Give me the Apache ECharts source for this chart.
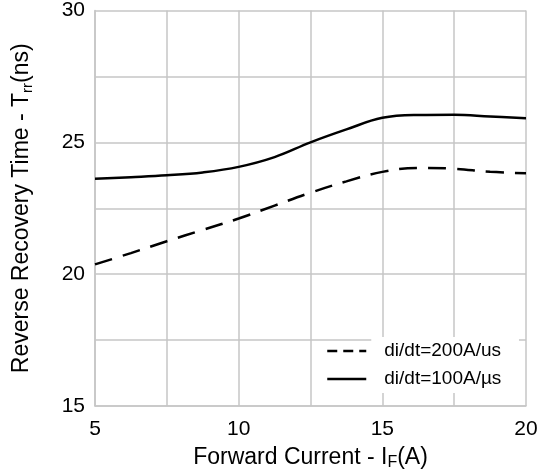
<!DOCTYPE html>
<html>
<head>
<meta charset="utf-8">
<script src="https://cdn.jsdelivr.net/npm/echarts@6/dist/echarts.min.js"></script>
<style>html,body{margin:0;padding:0;background:#fff;}#c{width:542px;height:476px;}</style>
</head>
<body>
<div id="c"></div>
<script>
var xValues = [5, 6.25, 7.5, 8.75, 10, 11.25, 12.5, 13.75, 15, 16.25, 17.5, 18.75, 20];
var trr200 = [20.37, 20.8, 21.25, 21.68, 22.11, 22.6, 23.09, 23.52, 23.88, 24.03, 24.0, 23.88, 23.83];
var trr100 = [23.62, 23.68, 23.75, 23.86, 24.07, 24.44, 25.0, 25.49, 25.93, 26.04, 26.05, 25.98, 25.91];
var seriesNames = ['di/dt=200A/us', 'di/dt=100A/\u00b5s'];
var xTickLabels = [5, 10, 15, 20];
var yTickLabels = [15, 20, 25, 30];

function pairs(xs, ys) { return xs.map(function (x, i) { return [x, ys[i]]; }); }

var chart = echarts.init(document.getElementById('c'), null, { renderer: 'canvas' });
var font = 'Liberation Sans, Arial, sans-serif';
var gridColor = '#c6c6c6';
chart.setOption({
  animation: false,
  backgroundColor: '#fff',
  textStyle: { fontFamily: font, color: '#000' },
  grid: { left: 95, right: 16, top: 5, bottom: 66, containLabel: false },
  xAxis: {
    type: 'value', min: 5, max: 20, interval: 2.5,
    axisLine: { show: true, lineStyle: { color: gridColor, width: 1.5 } },
    axisTick: { show: false },
    splitLine: { show: true, lineStyle: { color: gridColor, width: 1.5 } },
    axisLabel: {
      fontSize: 21, color: '#000', margin: 13, fontFamily: font,
      formatter: function (v) { return xTickLabels.indexOf(v) >= 0 ? String(v) : ''; }
    },
    name: '{a|Forward Current - I}{s|F}{a|(A)}',
    nameLocation: 'middle', nameGap: 38,
    nameTextStyle: {
      rich: {
        a: { fontSize: 23, color: '#000', fontFamily: font, lineHeight: 27 },
        s: { fontSize: 16, color: '#000', fontFamily: font, verticalAlign: 'bottom', lineHeight: 27 }
      }
    }
  },
  yAxis: {
    type: 'value', min: 15, max: 30, interval: 2.5,
    axisLine: { show: true, lineStyle: { color: gridColor, width: 1.5 } },
    axisTick: { show: false },
    splitLine: { show: true, lineStyle: { color: gridColor, width: 1.5 } },
    axisLabel: {
      fontSize: 21, color: '#000', margin: 10, fontFamily: font,
      formatter: function (v) { return yTickLabels.indexOf(v) >= 0 ? String(v) : ''; }
    },
    name: '{a|Reverse Recovery Time - T}{s|rr}{a|(ns)}',
    nameLocation: 'middle', nameGap: 60, nameRotate: 90,
    nameTextStyle: {
      rich: {
        a: { fontSize: 23, color: '#000', fontFamily: font, lineHeight: 27 },
        s: { fontSize: 15, color: '#000', fontFamily: font, verticalAlign: 'bottom', lineHeight: 27 }
      }
    }
  },
  legend: {
    show: true,
    orient: 'vertical', left: 326, top: 337, padding: 0,
    itemWidth: 39, itemHeight: 1, itemGap: 0,
    textStyle: {
      fontSize: 19, color: '#000', fontFamily: font, lineHeight: 20,
      backgroundColor: '#fff', padding: [4, 18, 4, 13]
    },
    data: [
      { name: seriesNames[0], lineStyle: { type: [10, 6], width: 2.5, color: '#000' } },
      { name: seriesNames[1], lineStyle: { type: 'solid', width: 2.5, color: '#000' } }
    ]
  },
  series: [
    {
      name: seriesNames[0], type: 'line', data: pairs(xValues, trr200),
      smooth: 0.4, symbol: 'none', z: 3,
      lineStyle: { color: '#000', width: 2.5, type: [18, 11] },
      itemStyle: { color: '#000' }
    },
    {
      name: seriesNames[1], type: 'line', data: pairs(xValues, trr100),
      smooth: 0.4, symbol: 'none', z: 3,
      lineStyle: { color: '#000', width: 2.5, type: 'solid' },
      itemStyle: { color: '#000' }
    }
  ]
});
</script>
</body>
</html>
